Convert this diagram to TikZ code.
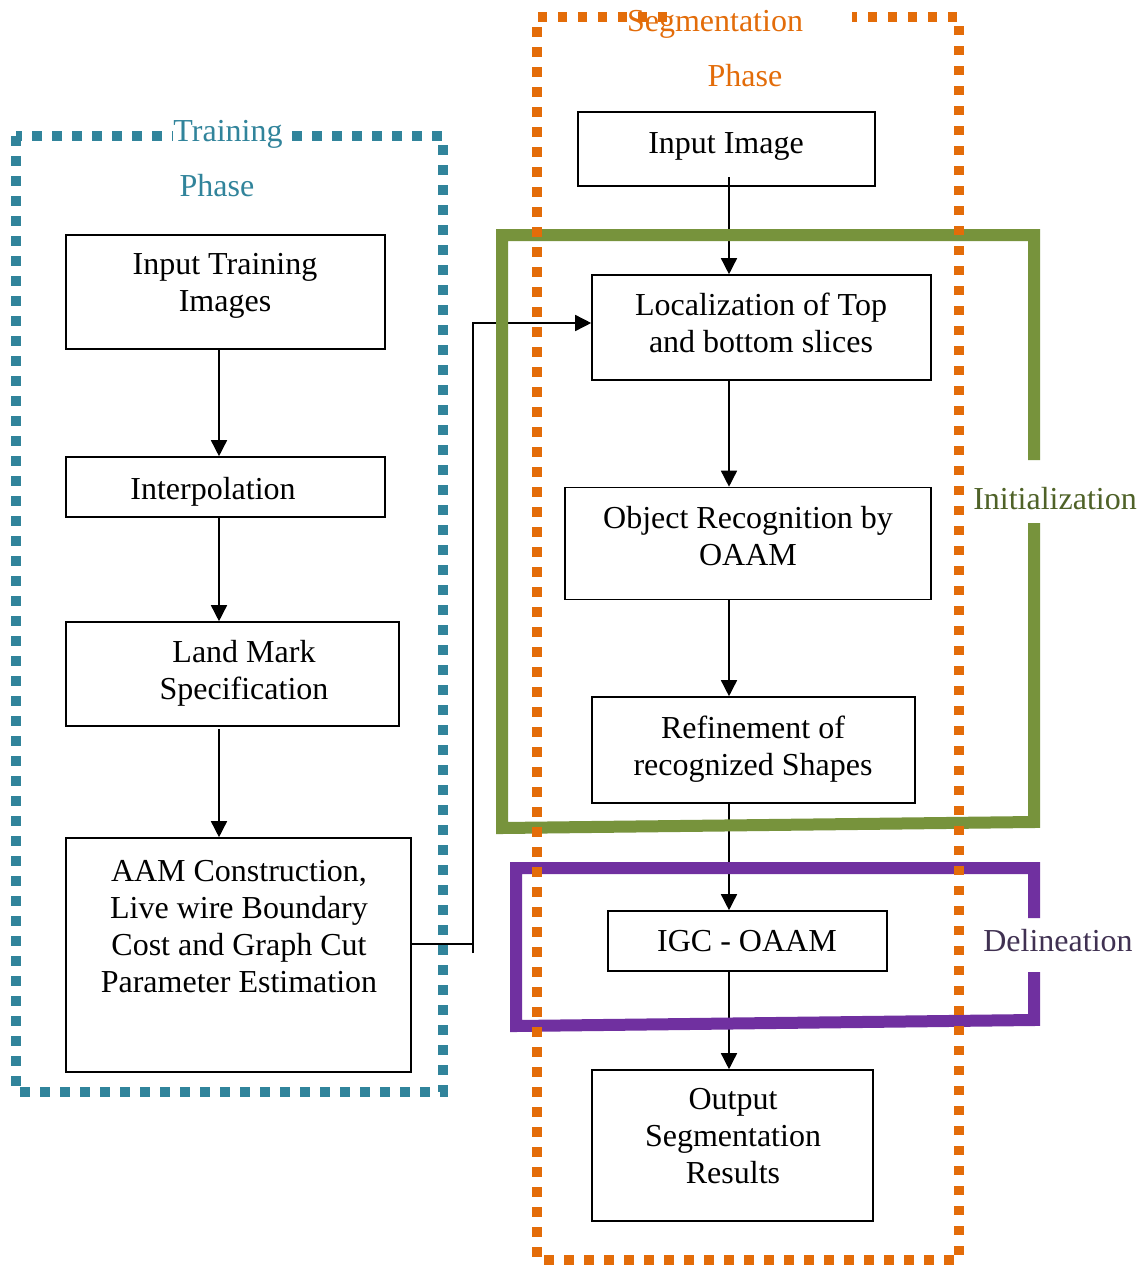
\documentclass[tikz,border=0pt]{standalone}
\usepackage{fontspec}
\setmainfont{Liberation Serif}
\usetikzlibrary{arrows.meta}
\definecolor{teal1}{HTML}{31849B}
\definecolor{orng}{HTML}{E36C09}
\definecolor{olive}{HTML}{77933C}
\definecolor{olivetxt}{HTML}{4F6228}
\definecolor{purp}{HTML}{7030A0}
\definecolor{purptxt}{HTML}{403152}
\tikzset{
  box/.style={draw=black, line width=1.6pt, fill=white, inner sep=0pt},
  txt/.style={inner sep=0pt, align=center, font=\fontsize{32}{37}\selectfont},
  conn/.style={line width=1.5pt, -{Triangle[width=16pt,length=16pt]}},
  plain/.style={line width=1.5pt},
  tealdots/.style={draw=teal1, line width=10pt, dash pattern=on 10pt off 10pt},
  orangedots/.style={draw=orng, line width=9.5pt, dash pattern=on 9.5pt off 10.5pt},
  greenbr/.style={draw=olive, line width=12pt, miter limit=10},
  purplebr/.style={draw=purp, line width=12pt, miter limit=10},
}
\begin{document}
\begin{tikzpicture}[x=1pt,y=-1pt]
\useasboundingbox[fill=white] (0,0) rectangle (1139,1266);

% ---- boxes ----
\node[box, minimum width=319pt, minimum height=114pt] (itr) at (225.5,292) {};
\node[box, minimum width=319pt, minimum height=60pt] (interp) at (225.5,487) {};
\node[box, minimum width=333pt, minimum height=104pt] (lms) at (232.5,674) {};
\node[box, minimum width=345pt, minimum height=234pt] (aam) at (238.5,955) {};
\node[box, minimum width=297pt, minimum height=74pt] (ii) at (726.5,149) {};
\node[box, minimum width=339pt, minimum height=105pt] (loc) at (761.5,327.5) {};
\node[box, minimum width=366pt, minimum height=112pt] (obj) at (748,543.5) {};
\node[box, minimum width=323pt, minimum height=106pt] (ref) at (753.5,750) {};
\node[box, minimum width=279pt, minimum height=60pt] (igc) at (747.5,941) {};
\node[box, minimum width=281pt, minimum height=151pt] (out) at (732.5,1145.5) {};

% ---- box texts ----
\node[txt] (itrt) at (225,286) {Input Training\\Images};
\node[txt] (interpt) at (213,491.5) {Interpolation};
\node[txt] (lmst) at (244,673) {Land Mark\\Specification};
\node[txt] (aamt) at (239,926.5) {AAM Construction,\\Live wire Boundary\\Cost and Graph Cut\\Parameter Estimation};
\node[txt] (iit) at (726,146.5) {Input Image};
\node[txt] (loct) at (761,322.5) {Localization of Top\\and bottom slices};
\node[txt] (objt) at (748,536) {Object Recognition by\\OAAM};
\node[txt] (reft) at (753,749) {Refinement of\\recognized Shapes};
\node[txt] (igct) at (747,941) {IGC - OAAM};
\node[txt] (outt) at (733,1136) {Output\\Segmentation\\Results};

% ---- connectors ----
\draw[conn] (itr.south -| 219,0) -- (interp.north -| 219,0);
\draw[conn] (interp.south -| 219,0) -- (lms.north -| 219,0);
\draw[conn] (219,729) -- (aam.north -| 219,0);
\draw[conn] (729,177) -- (loc.north -| 729,0);
\draw[conn] (loc.south -| 729,0) -- (obj.north -| 729,0);
\draw[conn] (obj.south -| 729,0) -- (ref.north -| 729,0);
\draw[conn] (ref.south -| 729,0) -- (igc.north -| 729,0);
\draw[conn] (igc.south -| 729,0) -- (out.north -| 729,0);
\coordinate (jt) at (473,944);
\coordinate (jb) at (473,953);
\coordinate (jtop) at (473,323);
\draw[plain] (aam.east |- jt) -- (jt);
\draw[conn] (jb) -- (jtop) -- (loc.west |- jtop);

% ---- brackets ----
\draw[greenbr] (1034,460) -- (1034,235) -- (502,235) -- (502,828) -- (1034,822) -- (1034,523);
\draw[purplebr] (1034,918) -- (1034,868) -- (516,868) -- (516,1026) -- (1034,1020) -- (1034,972);

% ---- phase frames ----
\draw[tealdots] (16,136) rectangle (443,1092);
\draw[orangedots] (667,17) -- (537,17) -- (537,1260) -- (959,1260) -- (959,17) -- (852,17);

% ---- labels ----
\node[txt, text=teal1, fill=white, inner xsep=0pt, inner ysep=1pt] (trn) at (228,134) {Training};
\node[txt, text=teal1] (trnp) at (217,186) {Phase};
\node[txt, text=orng] (seg) at (715,24.5) {Segmentation};
\node[txt, text=orng] (segp) at (745,75.5) {Phase};
\node[txt, text=olivetxt] (init) at (1055,499) {Initialization};
\node[txt, text=purptxt] (deli) at (1058,941) {Delineation};
\end{tikzpicture}
\end{document}
